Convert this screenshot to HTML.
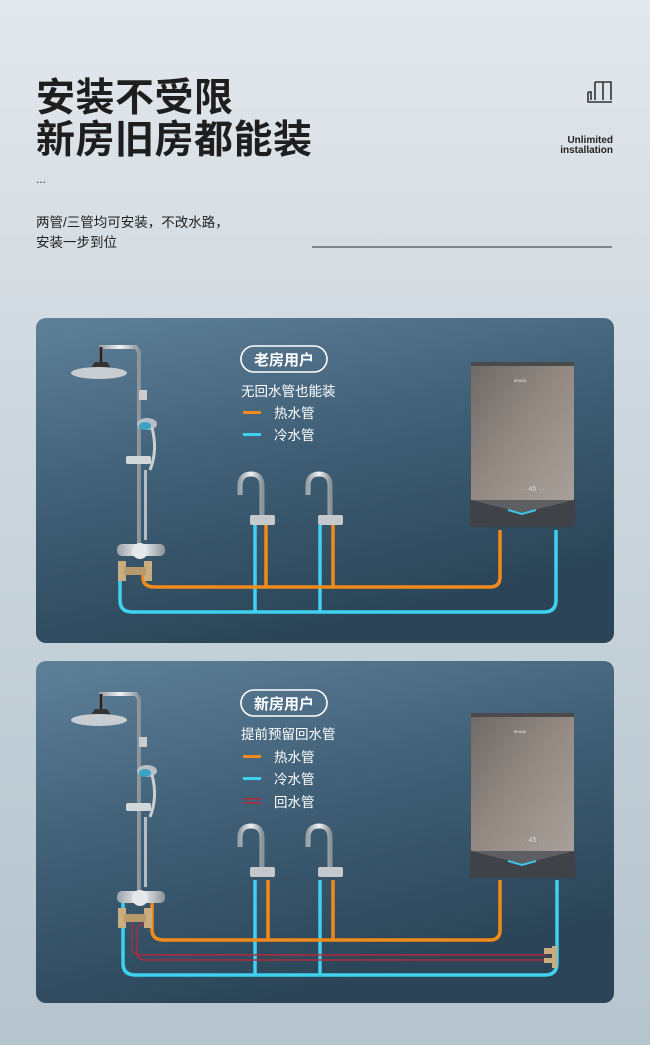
<!DOCTYPE html>
<html><head><meta charset="utf-8"><style>
*{margin:0;padding:0}
body{width:650px;height:1045px;overflow:hidden;background:linear-gradient(180deg,#e3e8ec 0%,#cdd7de 40%,#b6c4ce 100%);font-family:"Liberation Sans","Noto Sans CJK SC",sans-serif;position:relative}
.t{position:absolute;left:36px;font-weight:bold;color:#1e1e1e;font-size:39px;line-height:42px;letter-spacing:0.5px}
</style></head><body>
<div class="t" style="top:78px">安装不受限<br>新房旧房都能装</div>
<div style="position:absolute;left:36px;top:172px;font-size:12px;color:#333">...</div>
<div style="position:absolute;left:36px;top:213px;font-size:13.5px;line-height:20px;color:#222">两管/三管均可安装，不改水路，<br>安装一步到位</div>
<div style="position:absolute;right:37px;top:136px;font-size:10px;line-height:10px;color:#222;text-align:right;font-weight:bold">Unlimited<br>installation</div>
<svg style="position:absolute;left:586px;top:80px" width="28" height="26" viewBox="0 0 28 26" fill="none" stroke="#333" stroke-width="1.6"><path d="M9 2h16v18M9 2v18M17 2v18M2 12v10h24M2 12h3v8"/></svg>
<div style="position:absolute;left:312px;top:246px;width:300px;height:2px;background:#7d868d"></div>

<svg style="position:absolute;left:0;top:0" width="650" height="1045">
<defs>
<linearGradient id="pg" x1="0" y1="0" x2="0.4" y2="1"><stop offset="0" stop-color="#5e8099"/><stop offset="0.5" stop-color="#3f5f76"/><stop offset="1" stop-color="#2b4457"/></linearGradient>
<linearGradient id="hg" x1="0" y1="0" x2="1" y2="1"><stop offset="0" stop-color="#6e6964"/><stop offset="0.5" stop-color="#948a83"/><stop offset="1" stop-color="#a8a09a"/></linearGradient>
<linearGradient id="cr" x1="0" y1="0" x2="1" y2="0"><stop offset="0" stop-color="#9aa3aa"/><stop offset="0.5" stop-color="#f2f4f5"/><stop offset="1" stop-color="#8a939a"/></linearGradient>
<g id="shower">
<path d="M101 362 V347 H136 L139 352 V552" stroke="url(#cr)" stroke-width="4" fill="none"/>
<path d="M101 347 V362" stroke="#222" stroke-width="3"/>
<path d="M95 362 h12 l4 6 h-20z" fill="#333"/>
<ellipse cx="99" cy="373" rx="28" ry="6" fill="#c7cdd1"/>
<rect x="139" y="390" width="8" height="10" fill="#ccc"/>
<ellipse cx="147" cy="424" rx="10" ry="6" fill="#b8c0c6"/><ellipse cx="145" cy="426" rx="6" ry="4" fill="#3aa3c4"/>
<path d="M152 428 Q158 450 150 470" stroke="#c9cfd3" stroke-width="3" fill="none"/>
<rect x="126" y="456" width="25" height="8" rx="2" fill="#d2d7da"/>
<rect x="144" y="470" width="3" height="70" fill="#b6bdc2"/>
<rect x="117" y="544" width="48" height="12" rx="5" fill="url(#cr)"/>
<circle cx="140" cy="551" r="8" fill="#e6e9eb"/>
<rect x="118" y="561" width="8" height="20" fill="#c9ad7f"/><rect x="144" y="561" width="8" height="20" fill="#c9ad7f"/><rect x="124" y="567" width="22" height="8" fill="#b79a6c"/>
</g>
<g id="tap">
<path d="M240 495 V486 Q240 474 251 474 Q262 474 262 486 V520" stroke="url(#cr)" stroke-width="5" fill="none"/>
<rect x="250" y="515" width="25" height="10" rx="2" fill="#c3c9cd"/>
</g>
<g id="heater">
<rect x="471" y="362" width="103" height="140" fill="url(#hg)"/>
<rect x="471" y="362" width="103" height="4" fill="#4a4a4a"/>
<rect x="470" y="500" width="105" height="27" fill="#3f4247"/>
<path d="M471 500 L522 513 L574 500" fill="#5d5f63"/>
<path d="M508 510 L522 514 L536 510" stroke="#3fc4e6" stroke-width="2" fill="none"/>
<text x="520" y="491" font-size="7" fill="#ddd" font-family="Liberation Sans">·  ·  45  ·  ·</text>
<text x="514" y="382" font-size="3.5" fill="#eee" font-family="Liberation Sans">BRAND</text>
</g>
</defs>

<rect x="36" y="318" width="578" height="325" rx="10" fill="url(#pg)"/>
<rect x="36" y="661" width="578" height="342" rx="10" fill="url(#pg)"/>

<g fill="none" stroke-width="3.5" stroke-linejoin="round">
<path d="M120 570 V600 Q120 612 132 612 H544 Q556 612 556 600 V530" stroke="#3ed1f0"/>
<path d="M255 525 V612 M320 525 V612" stroke="#3ed1f0"/>
<path d="M143 570 V578 Q143 587 155 587 H490 Q500 587 500 577 V530" stroke="#f08a1a"/>
<path d="M266 525 V587 M333 525 V587" stroke="#f08a1a"/>
</g>
<use href="#shower"/>
<use href="#tap"/><use href="#tap" transform="translate(68,0)"/>
<use href="#heater"/>

<g fill="none" stroke-linejoin="round">
<path d="M123 900 V963 Q123 975 135 975 H545 Q557 975 557 963 V880" stroke="#3ed1f0" stroke-width="3.5"/>
<path d="M255 880 V975 M320 880 V975" stroke="#3ed1f0" stroke-width="3.5"/>
<path d="M152 900 V930 Q152 940 164 940 H490 Q500 940 500 930 V880" stroke="#f08a1a" stroke-width="3.5"/>
<path d="M268 880 V940 M333 880 V940" stroke="#f08a1a" stroke-width="3.5"/>
<path d="M150 918 H141 Q132 918 132 928 V948 Q132 955 140 955 H546" stroke="#b02a3a" stroke-width="1.4"/>
<path d="M150 924 H144 Q137 924 137 932 V952 Q137 960 145 960 H546" stroke="#b02a3a" stroke-width="1.4"/>
</g>
<rect x="544" y="948" width="13" height="6" fill="#c9ad7f"/><rect x="552" y="946" width="5" height="22" fill="#c9ad7f"/><rect x="544" y="958" width="13" height="5" fill="#c9ad7f"/>
<use href="#shower" transform="translate(0,347)"/>
<use href="#tap" transform="translate(0,352)"/><use href="#tap" transform="translate(68,352)"/>
<use href="#heater" transform="translate(0,351)"/>

<g font-family="Liberation Sans, Noto Sans CJK SC, sans-serif" fill="#fff">
<rect x="241" y="346" width="86" height="26" rx="13" fill="none" stroke="#fff" stroke-width="1.6"/>
<text x="284" y="365" font-size="15" text-anchor="middle" font-weight="bold">老房用户</text>
<text x="241" y="396" font-size="13.5">无回水管也能装</text>
<rect x="243" y="411" width="18" height="3" fill="#f08a1a"/><text x="274" y="418" font-size="13.5">热水管</text>
<rect x="243" y="433" width="18" height="3" fill="#3ed1f0"/><text x="274" y="440" font-size="13.5">冷水管</text>

<rect x="241" y="690" width="86" height="26" rx="13" fill="none" stroke="#fff" stroke-width="1.6"/>
<text x="284" y="709" font-size="15" text-anchor="middle" font-weight="bold">新房用户</text>
<text x="241" y="739" font-size="13.5">提前预留回水管</text>
<rect x="243" y="755" width="18" height="3" fill="#f08a1a"/><text x="274" y="762" font-size="13.5">热水管</text>
<rect x="243" y="777" width="18" height="3" fill="#3ed1f0"/><text x="274" y="784" font-size="13.5">冷水管</text>
<rect x="243" y="798" width="18" height="1.5" fill="#b02a3a"/><rect x="243" y="802" width="18" height="1.5" fill="#b02a3a"/><text x="274" y="807" font-size="13.5">回水管</text>
</g>
</svg>
</body></html>
